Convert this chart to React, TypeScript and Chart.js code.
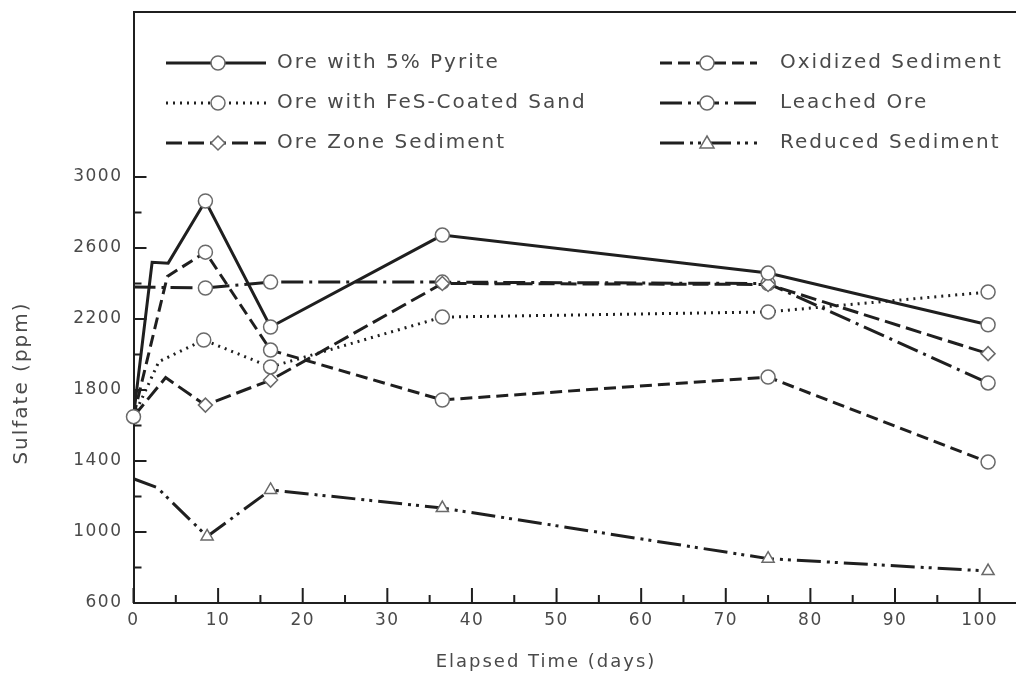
import React, { useEffect, useRef } from "react";
import { Chart, registerables } from "chart.js";
Chart.register(...registerables);

// ---- data ----
const seriesNames = [
  "Ore with 5% Pyrite",
  "Ore with FeS-Coated Sand",
  "Ore Zone Sediment",
  "Oxidized Sediment",
  "Leached Ore",
  "Reduced Sediment",
];

const pyriteDays = [0, 2.2, 4.1, 8.5, 16.2, 36.5, 75, 101];
const pyriteSulfate = [1650, 2520, 2515, 2865, 2155, 2673, 2459, 2168];

const fesDays = [0, 3, 8.3, 16.2, 36.5, 75, 101];
const fesSulfate = [1650, 1960, 2082, 1930, 2211, 2240, 2352];

const oreZoneDays = [0, 3.8, 8.5, 16.2, 36.5, 75, 101];
const oreZoneSulfate = [1650, 1870, 1715, 1856, 2400, 2395, 2005];

const oxidizedDays = [0, 4, 8.5, 16.2, 36.5, 75, 101];
const oxidizedSulfate = [1650, 2440, 2577, 2025, 1744, 1873, 1394];

const leachedDays = [0, 8.5, 16.2, 36.5, 75, 101];
const leachedSulfate = [2380, 2375, 2408, 2408, 2400, 1840];

const reducedDays = [0, 2.8, 8.7, 16.2, 36.5, 75, 101];
const reducedSulfate = [1300, 1250, 975, 1237, 1135, 850, 780];

const xTickValues = [0, 10, 20, 30, 40, 50, 60, 70, 80, 90, 100];
const xMinorTickValues = [5, 15, 25, 35, 45, 55, 65, 75, 85, 95];
const yTickValues = [600, 1000, 1400, 1800, 2200, 2600, 3000];
const yMinorTickValues = [800, 1200, 1600, 2000, 2400, 2800];

const xTitle = "Elapsed Time (days)";
const yTitle = "Sulfate (ppm)";

function toPoints(xs: number[], ys: number[]) {
  return xs.map((x, i) => ({ x, y: ys[i] }));
}

const INK = "#1f1f1f";
const TEXT = "#4a4a4a";
const FONT = "'DejaVu Sans', sans-serif";

type Style = { dash: number[]; marker: "circle" | "rectRot" | "triangle" };
const styles: Style[] = [
  { dash: [], marker: "circle" },
  { dash: [2, 5], marker: "circle" },
  { dash: [16, 6], marker: "rectRot" },
  { dash: [12, 6], marker: "circle" },
  { dash: [22, 6, 3, 6], marker: "circle" },
  { dash: [24, 6, 3, 5, 3, 6], marker: "triangle" },
];

function drawMarker(ctx: CanvasRenderingContext2D, kind: string, x: number, y: number, r: number) {
  ctx.save();
  ctx.setLineDash([]);
  ctx.beginPath();
  if (kind === "circle") {
    ctx.arc(x, y, r, 0, Math.PI * 2);
  } else if (kind === "rectRot") {
    ctx.moveTo(x, y - r);
    ctx.lineTo(x + r, y);
    ctx.lineTo(x, y + r);
    ctx.lineTo(x - r, y);
    ctx.closePath();
  } else {
    ctx.moveTo(x, y - r);
    ctx.lineTo(x + r, y + r * 0.7);
    ctx.lineTo(x - r, y + r * 0.7);
    ctx.closePath();
  }
  ctx.fillStyle = "#fff";
  ctx.fill();
  ctx.lineWidth = 1.5;
  ctx.strokeStyle = "#6a6a6a";
  ctx.stroke();
  ctx.restore();
}

export default function App() {
  const ref = useRef<HTMLCanvasElement>(null);

  useEffect(() => {
    document.body.style.margin = "0";
    const canvas = ref.current!;
    const seriesData = [
      toPoints(pyriteDays, pyriteSulfate),
      toPoints(fesDays, fesSulfate),
      toPoints(oreZoneDays, oreZoneSulfate),
      toPoints(oxidizedDays, oxidizedSulfate),
      toPoints(leachedDays, leachedSulfate),
      toPoints(reducedDays, reducedSulfate),
    ];

    const decor = {
      id: "decor",
      beforeDraw(chart: any) {
        const c = chart.ctx as CanvasRenderingContext2D;
        c.save();
        c.fillStyle = "#fff";
        c.fillRect(0, 0, chart.width, chart.height);
        c.restore();
        (c as any).letterSpacing = "1.5px";
      },
      afterDraw(chart: any) {
        const c = chart.ctx as CanvasRenderingContext2D;
        const area = chart.chartArea;
        const xs = chart.scales.x;
        const ys = chart.scales.y;
        c.save();
        c.setLineDash([]);
        c.strokeStyle = INK;
        // top frame line and bottom axis to the right edge
        c.lineWidth = 2;
        c.beginPath();
        c.moveTo(area.left, area.top);
        c.lineTo(chart.width, area.top);
        c.moveTo(area.left, area.bottom);
        c.lineTo(chart.width, area.bottom);
        c.stroke();
        // inward ticks
        c.lineWidth = 2;
        c.beginPath();
        xTickValues.forEach((v) => {
          const px = xs.getPixelForValue(v);
          c.moveTo(px, area.bottom);
          c.lineTo(px, area.bottom - 15);
        });
        xMinorTickValues.forEach((v) => {
          const px = xs.getPixelForValue(v);
          c.moveTo(px, area.bottom);
          c.lineTo(px, area.bottom - 8);
        });
        yTickValues.forEach((v) => {
          const py = ys.getPixelForValue(v);
          c.moveTo(area.left, py);
          c.lineTo(area.left + 13, py);
        });
        yMinorTickValues.forEach((v) => {
          const py = ys.getPixelForValue(v);
          c.moveTo(area.left, py);
          c.lineTo(area.left + 8, py);
        });
        c.stroke();

        // axis titles
        c.fillStyle = TEXT;
        (c as any).letterSpacing = "2px";
        c.font = `18px ${FONT}`;
        c.textAlign = "center";
        c.textBaseline = "middle";
        c.fillText(xTitle, 546, 662);
        c.save();
        c.translate(22, 383);
        c.rotate(-Math.PI / 2);
        c.font = `20px ${FONT}`;
        c.fillText(yTitle, 0, 0);
        c.restore();

        // legend
        const rows = [63, 103, 143];
        const cols = [
          { x1: 166, x2: 266, mx: 218, tx: 277 },
          { x1: 660, x2: 757, mx: 707, tx: 780 },
        ];
        c.font = `20px ${FONT}`;
        c.textAlign = "left";
        seriesNames.forEach((name, i) => {
          const col = cols[Math.floor(i / 3)];
          const y = rows[i % 3];
          const st = styles[i];
          c.save();
          c.strokeStyle = INK;
          c.lineWidth = 3;
          c.setLineDash(st.dash);
          c.beginPath();
          c.moveTo(col.x1, y);
          c.lineTo(col.x2, y);
          c.stroke();
          c.restore();
          drawMarker(c, st.marker, col.mx, y, 7);
          c.fillStyle = TEXT;
          c.fillText(name, col.tx, y);
        });
        c.restore();
        (c as any).letterSpacing = "1.5px";
      },
    };

    const chart = new Chart(canvas, {
      type: "line",
      data: {
        datasets: seriesData.map((d, i) => ({
          label: seriesNames[i],
          data: d,
          borderColor: INK,
          borderWidth: 3,
          borderDash: styles[i].dash,
          pointStyle: styles[i].marker,
          pointRadius: (ctx: any) => {
            const x = ctx.raw ? ctx.raw.x : 0;
            if (x === 0) return ctx.datasetIndex === 0 ? 7 : 0;
            return x < 8 ? 0 : 7;
          },
          pointBackgroundColor: "#fff",
          pointBorderColor: "#6a6a6a",
          pointBorderWidth: 1.5,
          tension: 0,
          fill: false,
          clip: false,
        })),
      },
      options: {
        animation: false,
        responsive: false,
        devicePixelRatio: 1,
        layout: { autoPadding: false, padding: { top: 12, right: 0, left: 0, bottom: 0 } },
        plugins: { legend: { display: false }, tooltip: { enabled: false } },
        scales: {
          x: {
            type: "linear",
            min: 0,
            max: 104.3,
            grid: { display: false, drawTicks: false },
            border: { color: INK, width: 2 },
            afterBuildTicks: (s: any) => {
              s.ticks = xTickValues.map((v) => ({ value: v }));
            },
            afterFit: (s: any) => {
              s.height = 79;
              s.paddingLeft = 0;
              s.paddingRight = 0;
            },
            ticks: {
              padding: 7,
              color: TEXT,
              maxRotation: 0,
              autoSkip: false,
              font: { family: FONT, size: 17 },
              callback: (v: any) => String(v),
            },
          },
          y: {
            type: "linear",
            min: 600,
            max: 3930,
            grid: { display: false, drawTicks: false },
            border: { color: INK, width: 2 },
            afterBuildTicks: (s: any) => {
              s.ticks = yTickValues.map((v) => ({ value: v }));
            },
            afterFit: (s: any) => {
              s.width = 133.5;
              s.paddingTop = 0;
              s.paddingBottom = 0;
            },
            ticks: {
              padding: 11,
              color: TEXT,
              autoSkip: false,
              font: { family: FONT, size: 17 },
              callback: (v: any) => String(v),
            },
          },
        },
      },
      plugins: [decor],
    } as any);
    return () => chart.destroy();
  }, []);

  return (
    <div style={{ position: "fixed", left: 0, top: 0, width: 1016, height: 682, background: "#fff" }}>
      <canvas ref={ref} width={1016} height={682} style={{ display: "block" }} />
    </div>
  );
}
